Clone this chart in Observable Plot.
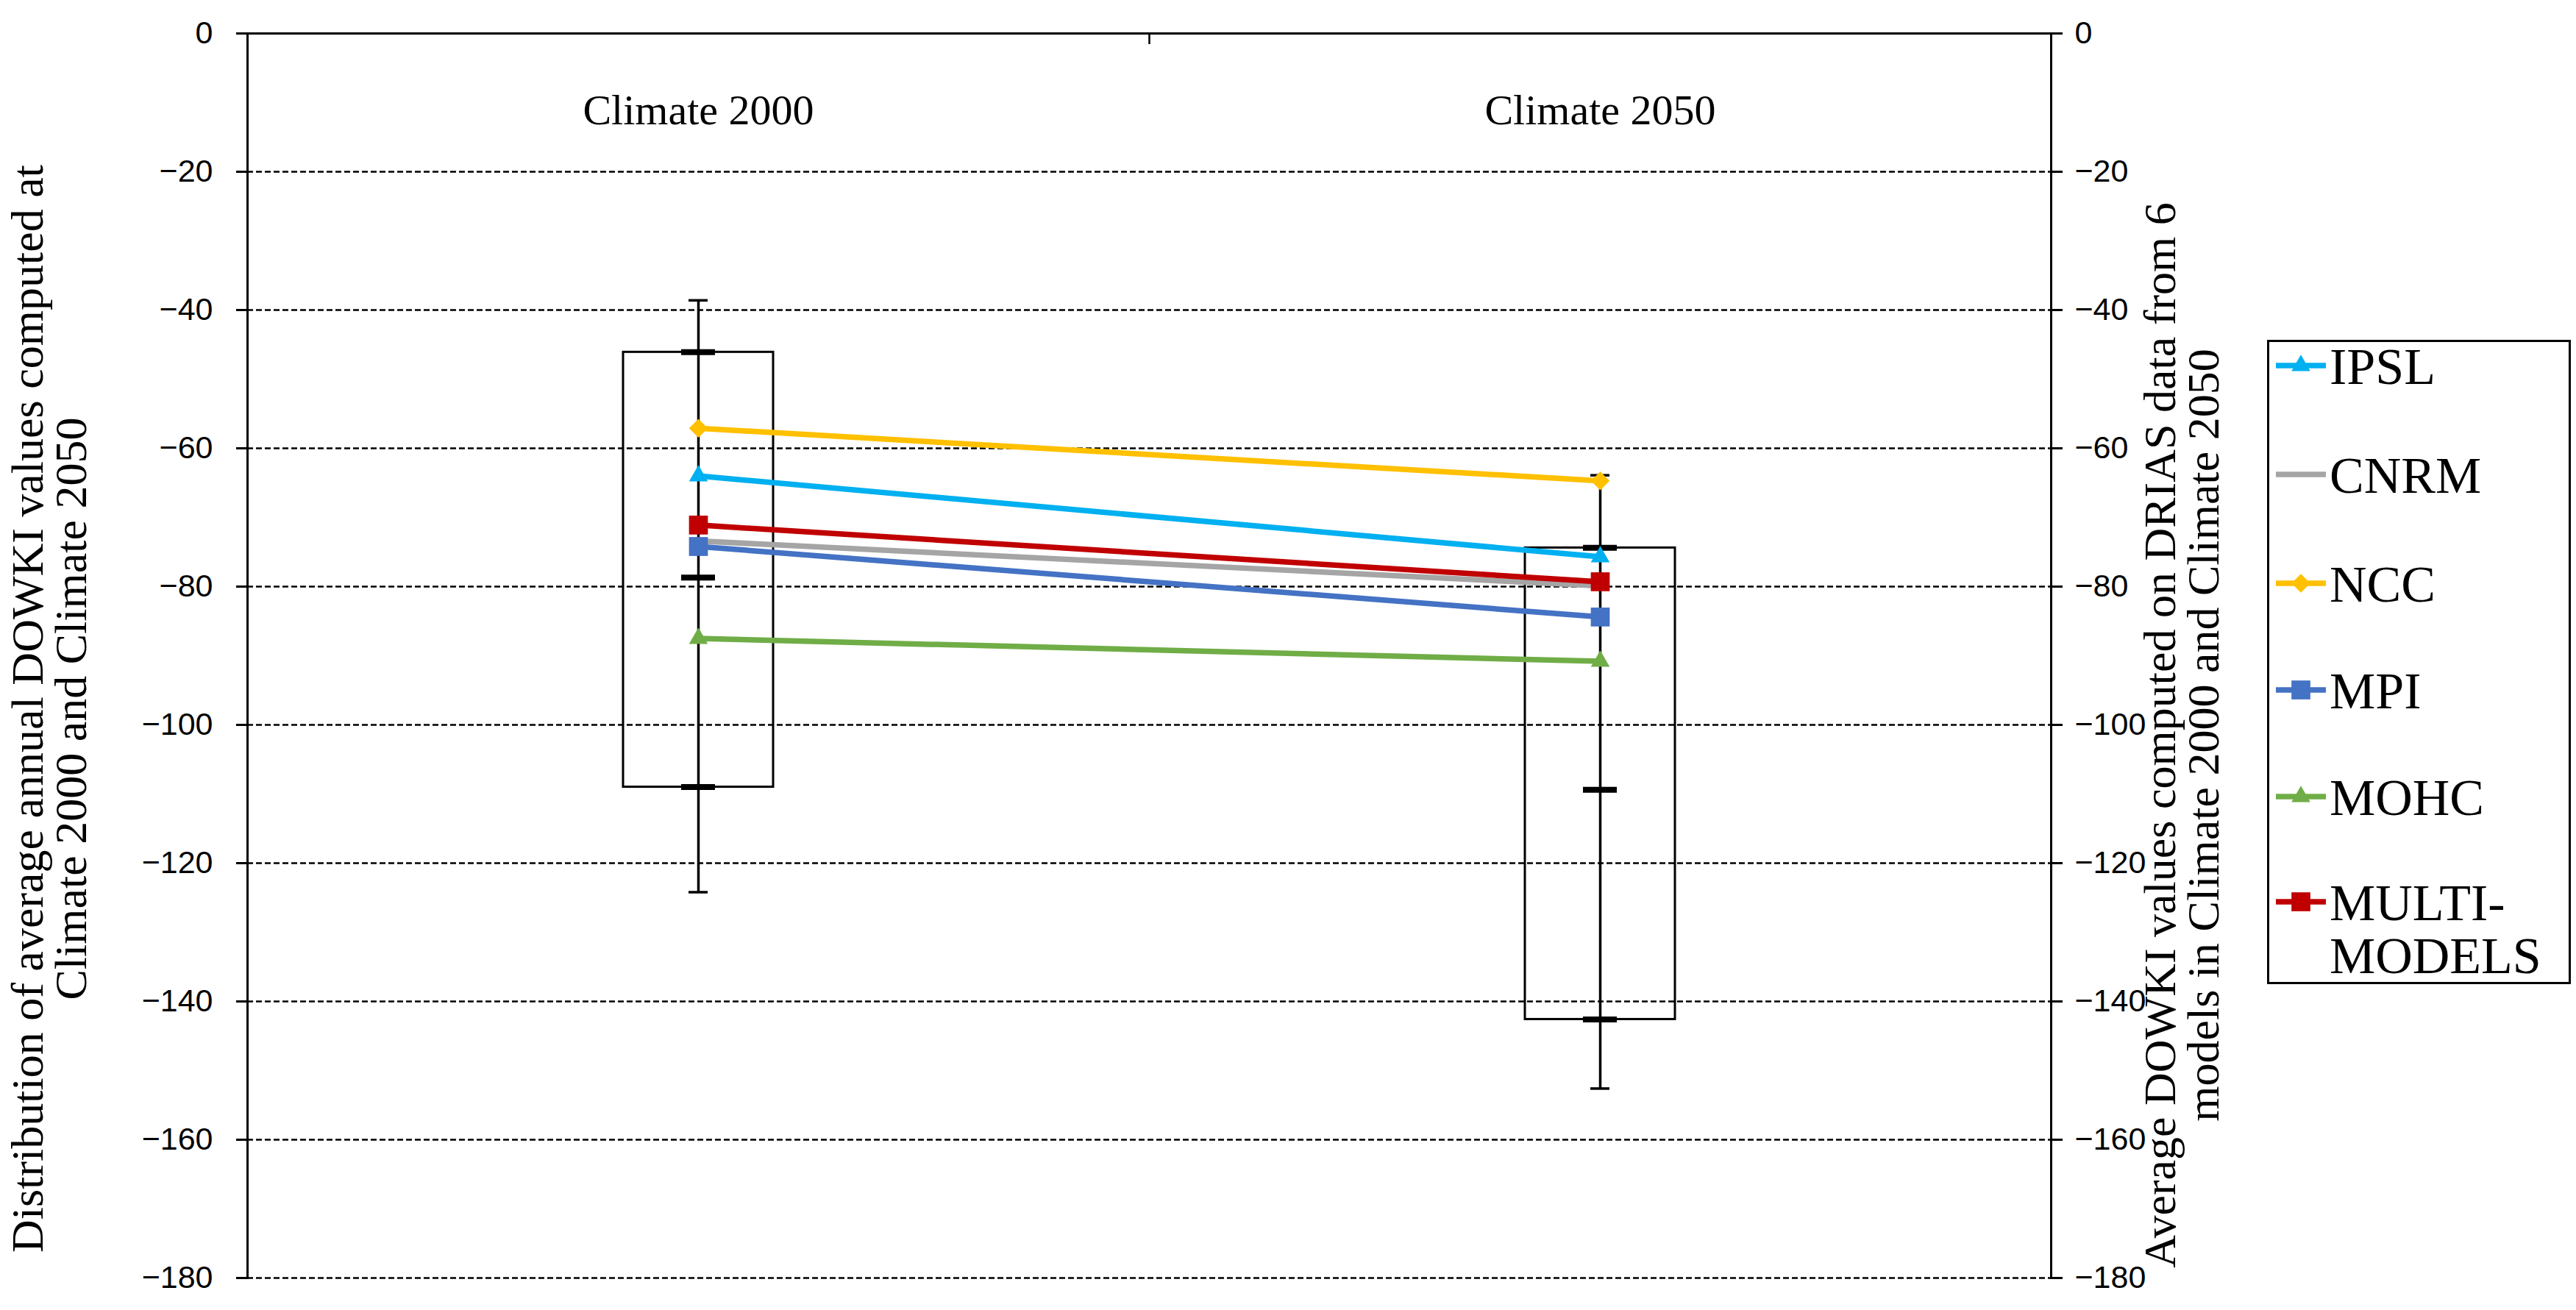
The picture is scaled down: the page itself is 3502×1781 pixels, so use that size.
<!DOCTYPE html>
<html><head><meta charset="utf-8">
<script src="https://cdn.jsdelivr.net/npm/d3@7"></script>
<script src="https://cdn.jsdelivr.net/npm/@observablehq/plot@0.6"></script>
<style>
body{margin:0;background:#fff;color:#000;}
#wrap{position:relative;width:3502px;height:1781px;}
#legend{position:absolute;left:3082px;top:432px;overflow:visible;}
</style></head><body><div id="wrap"></div>
<script>
// ---- data ----
const categories = ["Climate 2000", "Climate 2050"];
const models = ["IPSL", "CNRM", "NCC", "MPI", "MOHC", "MULTI-MODELS"];
const modelColors = ["#00B0F0", "#A5A5A5", "#FFC000", "#4472C4", "#70AD47", "#C00000"];
const ipsl  = [-64.0, -75.7];
const cnrm  = [-73.4, -79.9];
const ncc   = [-57.1, -64.7];
const mpi   = [-74.2, -84.4];
const mohc  = [-87.5, -90.8];
const multi = [-71.1, -79.3];
// distribution (box) per category
const distMin    = [-124.2, -152.6];
const distLow    = [-109.0, -142.6];
const distMedian = [-78.7, -109.4];
const distHigh   = [-46.1, -74.4];
const distMax    = [-38.6, -63.9];
const yTicks = [0, -20, -40, -60, -80, -100, -120, -140, -160, -180];
const leftTitle = "Distribution of average annual DOWKI values computed at\nClimate 2000 and Climate 2050";
const rightTitle = "Average DOWKI values computed on DRIAS data from 6\nmodels in Climate 2000 and Climate 2050";

// ---- tables ----
const series = [ipsl, cnrm, ncc, mpi, mohc, multi];
const lineRows = models.flatMap((m, i) => categories.map((c, j) => ({model: m, cat: c, value: series[i][j]})));
const boxRows = categories.map((c, j) => ({cat: c, min: distMin[j], low: distLow[j], med: distMedian[j], high: distHigh[j], max: distMax[j]}));
const symbolOf = {"IPSL": "triangle", "NCC": "diamond2", "MPI": "square", "MOHC": "triangle", "MULTI-MODELS": "square"};
const colorOf = Object.fromEntries(models.map((m, i) => [m, modelColors[i]]));
const fmt = d => d === 0 ? "0" : "\u2212" + Math.abs(d);

const W = 3502, H = 1781;
const serif = "'Liberation Serif', 'DejaVu Serif', serif";
const sans = "'Liberation Sans', Arial, sans-serif";

const dotMark = (sym, r) => Plot.dot(lineRows.filter(d => symbolOf[d.model] === sym),
  {x: "cat", y: "value", fill: "model", symbol: () => sym, r, stroke: "none"});

const plot = Plot.plot({
  width: W, height: H,
  marginLeft: 336, marginRight: 714, marginTop: 45, marginBottom: 44,
  x: {type: "band", domain: categories, padding: 0, axis: null},
  y: {domain: [-180, 0], axis: null},
  color: {domain: models, range: modelColors},
  symbol: {domain: ["triangle", "diamond2", "square"], range: ["triangle", "diamond2", "square"]},
  style: {background: "white", fontFamily: serif, color: "black"},
  marks: [
    Plot.gridY(yTicks.filter(d => d !== 0), {stroke: "#000", strokeOpacity: 1, strokeWidth: 2.5, strokeDasharray: "8,4"}),
    Plot.ruleY([0], {stroke: "#000", strokeWidth: 3}),
    Plot.frame({anchor: "left", stroke: "#000", strokeWidth: 3}),
    Plot.frame({anchor: "right", stroke: "#000", strokeWidth: 3}),
    Plot.ruleX([categories[0]], {dx: 613, insetBottom: 1677, stroke: "#000", strokeWidth: 2.5}),
    Plot.axisY({anchor: "left", ticks: yTicks, tickSize: 15, tickPadding: 32, tickFormat: fmt, fontSize: 43, fontFamily: sans, strokeWidth: 3, label: null}),
    Plot.axisY({anchor: "right", ticks: yTicks, tickSize: 15, tickPadding: 17, tickFormat: fmt, fontSize: 43, fontFamily: sans, strokeWidth: 3, label: null}),
    // distribution box
    Plot.barY(boxRows, {x: "cat", y1: "low", y2: "high", fill: "none", stroke: "#000", strokeWidth: 3, insetLeft: 511, insetRight: 511}),
    Plot.ruleX(boxRows, {x: "cat", y1: "min", y2: "max", stroke: "#000", strokeWidth: 3.5}),
    Plot.tickY(boxRows, {x: "cat", y: "min", insetLeft: 600, insetRight: 600, stroke: "#000", strokeWidth: 3.5}),
    Plot.tickY(boxRows, {x: "cat", y: "max", insetLeft: 600, insetRight: 600, stroke: "#000", strokeWidth: 3.5}),
    Plot.tickY(boxRows, {x: "cat", y: "low", insetLeft: 590, insetRight: 590, stroke: "#000", strokeWidth: 8}),
    Plot.tickY(boxRows, {x: "cat", y: "med", insetLeft: 590, insetRight: 590, stroke: "#000", strokeWidth: 8}),
    Plot.tickY(boxRows, {x: "cat", y: "high", insetLeft: 590, insetRight: 590, stroke: "#000", strokeWidth: 8}),
    // model lines
    Plot.line(lineRows, {x: "cat", y: "value", z: "model", stroke: "model", strokeWidth: 7.5}),
    dotMark("triangle", 9.5),
    dotMark("diamond2", 11.5),
    dotMark("square", 14.5),
    // category labels
    Plot.text(categories, {x: d => d, frameAnchor: "top", dy: 82, fontSize: 58, fontFamily: serif, fill: "#000"}),
    // axis titles
    Plot.text([leftTitle], {frameAnchor: "left", dx: -268, dy: 72, rotate: -90, textAnchor: "middle", lineHeight: 0.95, fontSize: 62, fontFamily: serif, fill: "#000"}),
    Plot.text([rightTitle], {frameAnchor: "right", dx: 179, dy: 108, rotate: -90, textAnchor: "middle", lineHeight: 0.95, fontSize: 62, fontFamily: serif, fill: "#000"})
  ]
});
const wrap = document.getElementById("wrap");
wrap.appendChild(plot);

// ---- legend ----
const pad = 30;
const LW = 413, LH = 876;
const leg = d3.select(wrap).append("svg").attr("id", "legend").attr("width", LW + 6).attr("height", LH + pad + 10);
leg.append("rect").attr("x", 1.5).attr("y", pad + 1.5).attr("width", LW - 3).attr("height", LH - 3)
  .attr("fill", "white").attr("stroke", "#000").attr("stroke-width", 3);
const rowY = [35, 183, 331, 476, 621, 764];
const symMap = {triangle: d3.symbolTriangle, diamond2: d3.symbolDiamond2, square: d3.symbolSquare};
const rMap = {triangle: 9.5, diamond2: 11.5, square: 14.5};
models.forEach((m, i) => {
  const g = leg.append("g").attr("transform", `translate(0,${pad + rowY[i]})`);
  g.append("line").attr("x1", 12).attr("x2", 80).attr("stroke", colorOf[m]).attr("stroke-width", 7.5);
  const s = symbolOf[m];
  if (s) g.append("path").attr("transform", "translate(46,0)")
    .attr("d", d3.symbol(symMap[s], Math.PI * rMap[s] * rMap[s])()).attr("fill", colorOf[m]);
  const lines = m === "MULTI-MODELS" ? ["MULTI-", "MODELS"] : [m];
  lines.forEach((t, k) => g.append("text").attr("x", 85).attr("y", k * 72).attr("dy", "0.35em")
    .attr("font-family", serif).attr("font-size", 70).attr("fill", "#000").text(t));
});
</script></body></html>
